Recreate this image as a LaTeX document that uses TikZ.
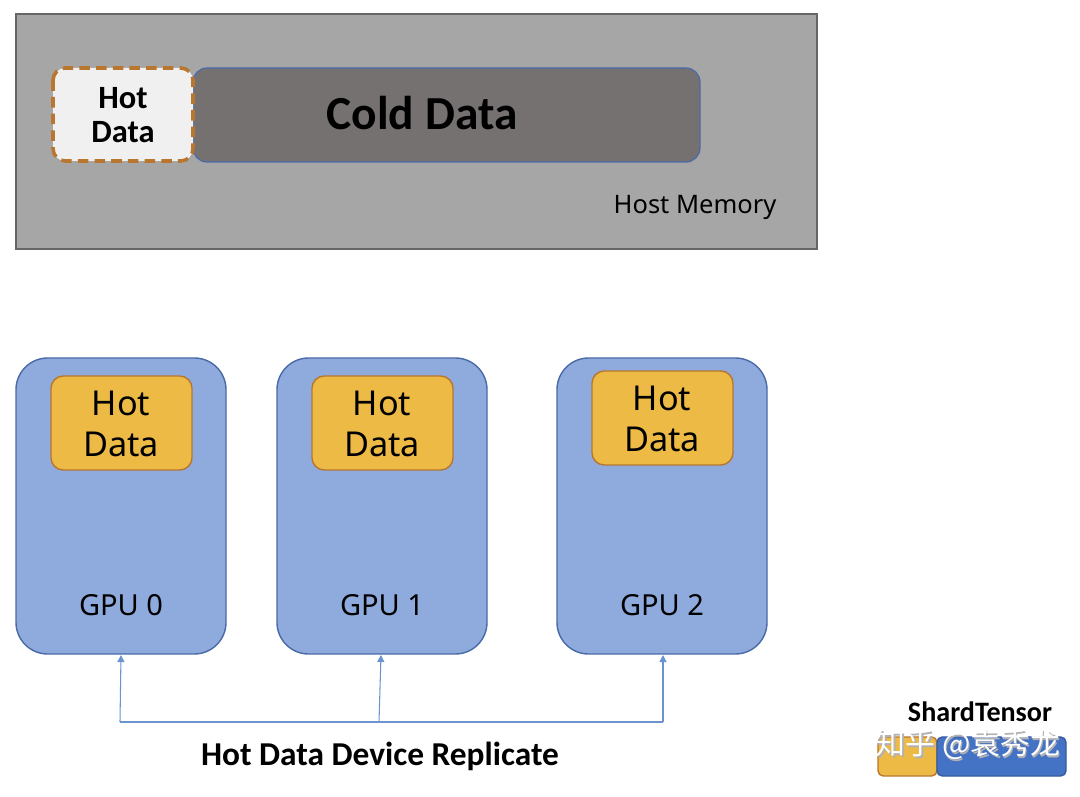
\documentclass[tikz,border=0pt]{standalone}
\usepackage{fontspec}
\setmainfont{Noto Sans}
\newfontfamily\heavyfont{Carlito}
\newfontfamily\cjkfont{Noto Sans CJK SC}
\usepackage{xcolor}
\usetikzlibrary{arrows.meta,calc,positioning}
\definecolor{hostgray}{HTML}{A6A6A6}
\definecolor{coldgray}{HTML}{767171}
\definecolor{gpublue}{HTML}{8FAADC}
\definecolor{gpuedge}{HTML}{4A6AA8}
\definecolor{hotyellow}{HTML}{EDBB45}
\definecolor{hotedge}{HTML}{B8762E}
\definecolor{linkblue}{HTML}{6A93D0}
\definecolor{shardblue}{HTML}{4472C4}
\tikzset{
  gpubox/.style={draw=gpuedge,fill=gpublue,rounded corners=18pt,line width=0.8pt},
  hotbox/.style={draw=hotedge,fill=hotyellow,rounded corners=7pt,line width=0.8pt},
  hottext/.style={align=center,font={\fontsize{19.5}{23}\selectfont}},
  gputext/.style={font={\fontsize{16.5}{19}\selectfont}},
  link/.style={draw=linkblue,line width=0.6pt},
  linkarrow/.style={link,-{Triangle[length=4pt,width=4pt]}}
}
\begin{document}
\begin{tikzpicture}[x=0.02cm,y=-0.02cm]
\useasboundingbox (0,0) rectangle (1080,797);
% host memory
\draw[draw=gray!80!black,fill=hostgray,line width=0.8pt] (16,14) rectangle (817,249);
\node[font={\fontsize{14.5}{18}\selectfont}] (hostlbl) at (695,207) {Host Memory};
\draw[draw=gpuedge,fill=coldgray,rounded corners=8pt,line width=0.7pt] (193,68) rectangle (700,162);
\node[font={\heavyfont\bfseries\fontsize{27}{30}\selectfont}] (cold) at (422,113) {Cold Data};
\draw[draw=hotedge,fill=gray!12,dash pattern=on 6pt off 3.5pt,rounded corners=7pt,line width=2pt] (53,68) rectangle (193,161);
\node[align=center,font={\heavyfont\bfseries\fontsize{18.5}{19}\selectfont}] (hothost) at (123,115) {Hot\\Data};
% gpus
\foreach \i/\x/\h in {0/16/376,1/277/376,2/557/371}{
  \draw[gpubox] (\x,358) rectangle ++(210,296);
  \draw[hotbox] ($(\x,\h)+(35,0)$) rectangle ++(141,94);
  \node[hottext] (hot\i) at ($(\x,\h)+(105,48)$) {Hot\\Data};
  \node[gputext] (gpu\i) at ($(\x,605)+(105,0)$) {GPU \i};
}
% replicate links
\coordinate (b0) at (120,722);
\coordinate (b1) at (379,722);
\coordinate (b2) at (663,722);
\draw[link] (b0) -- (b2);
\draw[linkarrow] (b0) -- (121,655);
\draw[linkarrow] (b1) -- (381,655);
\draw[linkarrow] (b2) -- (663,655);
\node[font={\heavyfont\bfseries\fontsize{19}{22}\selectfont}] (repl) at (380,756) {Hot Data Device Replicate};
% legend
\node[font={\heavyfont\bfseries\fontsize{16}{19}\selectfont}] (shard) at (980,712) {ShardTensor};
\draw[hotbox,rounded corners=3pt] (878,737) rectangle (937,776);
\draw[draw=shardblue!80!black,fill=shardblue,rounded corners=3pt,line width=0.8pt] (937,737) rectangle (1066,776);
\node[font={\cjkfont\fontsize{17}{20}\selectfont},text=gray!60] (markshadow) at (969.5,746.5) {知乎 @袁秀龙};
\node[font={\cjkfont\fontsize{17}{20}\selectfont},text=white] (mark) at (968,745) {知乎 @袁秀龙};
\end{tikzpicture}
\end{document}
